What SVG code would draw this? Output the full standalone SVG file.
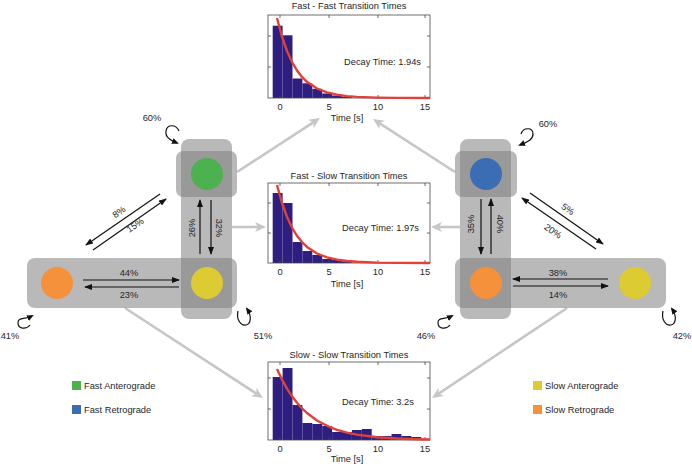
<svg xmlns="http://www.w3.org/2000/svg" width="692" height="466" viewBox="0 0 692 466">
<style>
text{font-family:"Liberation Sans",Arial,sans-serif;font-size:9.3px;fill:#262626}
.m{text-anchor:middle}
.frame{fill:none;stroke:#4a4a4a;stroke-width:0.8}
.tick{stroke:#4a4a4a;stroke-width:0.8}
.bar{fill:#2d1e80}
.fit{fill:none;stroke:#e2403a;stroke-width:2.4;stroke-linejoin:round}
.band{fill:#808080;opacity:0.55}
.grey{stroke:#c6c6c6;stroke-width:2.6;fill:none;marker-end:url(#gh)}
.ar{stroke:#111;stroke-width:1.2;fill:none;marker-end:url(#bh)}
.loop{stroke:#111;stroke-width:1.2;fill:none;marker-end:url(#lh)}
</style>
<defs>
<marker id="bh" markerUnits="userSpaceOnUse" markerWidth="8" markerHeight="6" refX="7" refY="3" orient="auto"><path d="M0,0 L8,3 L0,6 z" fill="#111"/></marker>
<marker id="lh" markerUnits="userSpaceOnUse" markerWidth="7" markerHeight="6" refX="5" refY="3" orient="auto"><path d="M0,0 L7,3 L0,6 z" fill="#111"/></marker>
<marker id="gh" markerUnits="userSpaceOnUse" markerWidth="11" markerHeight="10" refX="3" refY="5" orient="auto"><path d="M0,0 L11,5 L0,10 L3,5 z" fill="#c6c6c6"/></marker>
</defs>
<rect width="692" height="466" fill="#fff"/>

<g id="connectors">
<path class="grey" d="M237,172 L313.3,122.4"/>
<path class="grey" d="M455,172 L379.7,123.3"/>
<path class="grey" d="M232,227 L258,227"/>
<path class="grey" d="M460,227 L439,227"/>
<path class="grey" d="M125,308 L256.3,393.6"/>
<path class="grey" d="M567,308 L438.7,393.6"/>
</g>

<!-- Left state diagram -->
<g id="left-bands">
<rect class="band" x="27" y="258" width="210" height="50" rx="8"/>
<rect class="band" x="181" y="139" width="51" height="180" rx="8"/>
<rect class="band" x="176" y="151" width="61" height="46" rx="7"/>
</g>
<g id="left-fast-anterograde"><circle cx="207" cy="174" r="16" fill="#4cb14f"/></g>
<g id="left-slow-anterograde"><circle cx="207" cy="283" r="16" fill="#dccb33"/></g>
<g id="left-slow-retrograde"><circle cx="57" cy="283" r="16" fill="#f5913a"/></g>
<g id="left-transitions">
<path class="ar" d="M83,280 L179,280"/>
<path class="ar" d="M179,287 L85,287"/>
<path class="ar" d="M200,254 L200,200"/>
<path class="ar" d="M211,200 L211,254"/>
<path class="ar" d="M160,194 L86,245"/>
<path class="ar" d="M93,250 L166,199"/>
<text class="m" x="129" y="275.5">44%</text>
<text class="m" x="129" y="297.5">23%</text>
<text class="m" transform="translate(192,228) rotate(-90)" y="3.3">26%</text>
<text class="m" transform="translate(219,228) rotate(90)" y="3.3">32%</text>
<text class="m" transform="translate(119,212) rotate(-34.6)" y="3.3">8%</text>
<text class="m" transform="translate(135,225) rotate(-34.6)" y="3.3">15%</text>
<path class="loop" d="M179,131 C176,124 167,124 166,131 C165,137 170,140 177,143"/>
<text class="m" x="152" y="120.5">60%</text>
<path class="loop" d="M30,325 C26,330 18,329 18,323 C18,317 24,320 32,316"/>
<text class="m" x="10" y="338.5">41%</text>
<path class="loop" d="M238,311 C236,320 241,326 246,325 C251,324 252,316 247,309"/>
<text class="m" x="263" y="338.5">51%</text>
</g>

<!-- Right state diagram -->
<g id="right-bands">
<rect class="band" x="455" y="258" width="211" height="50" rx="8"/>
<rect class="band" x="460" y="139" width="51" height="180" rx="8"/>
<rect class="band" x="455" y="151" width="62" height="46" rx="7"/>
</g>
<g id="right-fast-retrograde"><circle cx="486" cy="174" r="16" fill="#3a6db4"/></g>
<g id="right-slow-retrograde"><circle cx="486" cy="283" r="16" fill="#f5913a"/></g>
<g id="right-slow-anterograde"><circle cx="635" cy="283" r="16" fill="#dccb33"/></g>
<g id="right-transitions">
<path class="ar" d="M608,279 L513,279"/>
<path class="ar" d="M513,286 L608,286"/>
<path class="ar" d="M481,199 L481,254"/>
<path class="ar" d="M491,254 L491,199"/>
<path class="ar" d="M530,193 L603,244"/>
<path class="ar" d="M596,249 L522,198"/>
<text class="m" x="558" y="275.5">38%</text>
<text class="m" x="558" y="297.5">14%</text>
<text class="m" transform="translate(471,224) rotate(-90)" y="3.3">35%</text>
<text class="m" transform="translate(500,224) rotate(90)" y="3.3">40%</text>
<text class="m" transform="translate(568,209) rotate(34.6)" y="3.3">5%</text>
<text class="m" transform="translate(553,231) rotate(34.6)" y="3.3">20%</text>
<path class="loop" d="M521,134 C523,127 533,127 533,134 C533,140 527,142 520,145"/>
<text class="m" x="548" y="126.5">60%</text>
<path class="loop" d="M450,325 C446,330 438,329 438,323 C438,317 444,320 452,316"/>
<text class="m" x="426" y="338.5">46%</text>
<path class="loop" d="M663,311 C661,320 666,326 671,325 C676,324 677,316 672,309"/>
<text class="m" x="682" y="338.5">42%</text>
</g>

<!-- Histogram: Fast - Fast -->
<g id="hist-fast-fast">
<text class="m" x="349" y="8.5">Fast - Fast Transition Times</text>
<rect class="bar" x="272.7" y="25.7" width="9.9" height="72.3"/>
<rect class="bar" x="282.6" y="35.3" width="9.9" height="62.7"/>
<rect class="bar" x="292.5" y="78.5" width="9.9" height="19.5"/>
<rect class="bar" x="302.4" y="83.3" width="9.9" height="14.7"/>
<rect class="bar" x="312.3" y="88.8" width="9.9" height="9.2"/>
<rect class="bar" x="322.2" y="93.5" width="9.9" height="4.5"/>
<rect class="bar" x="332.1" y="95.5" width="9.9" height="2.5"/>
<rect class="bar" x="342" y="96.8" width="9.9" height="1.2"/>
<rect class="frame" x="268" y="15" width="162" height="83"/>
<path class="tick" d="M280,15 v3 M329,15 v3 M378,15 v3 M425,15 v3 M280,98 v-3 M329,98 v-3 M378,98 v-3 M425,98 v-3 M268,36 h3 M268,67 h3 M430,36 h-3 M430,67 h-3"/>
<polyline class="fit" points="277,18 282,36.7 287,51 292,62 297,70.4 302,76.9 307,81.8 317,88.5 327,92.4 337,94.7 347,96.1 357,96.9 377,97.6 397,97.9 430,98"/>
<text x="344" y="64.5">Decay Time: 1.94s</text>
<text class="m" x="280" y="110">0</text>
<text class="m" x="329" y="110">5</text>
<text class="m" x="378" y="110">10</text>
<text class="m" x="425" y="110">15</text>
<text class="m" x="347" y="121">Time [s]</text>
</g>

<!-- Histogram: Fast - Slow -->
<g id="hist-fast-slow">
<text class="m" x="349" y="178.5">Fast - Slow Transition Times</text>
<rect class="bar" x="272.7" y="193" width="9.9" height="70"/>
<rect class="bar" x="282.6" y="203" width="9.9" height="60"/>
<rect class="bar" x="292.5" y="242" width="9.9" height="21"/>
<rect class="bar" x="302.4" y="251" width="9.9" height="12"/>
<rect class="bar" x="312.3" y="255" width="9.9" height="8"/>
<rect class="bar" x="322.2" y="259" width="9.9" height="4"/>
<rect class="bar" x="332.1" y="260" width="9.9" height="3"/>
<rect class="bar" x="342" y="261.5" width="9.9" height="1.5"/>
<rect class="frame" x="268" y="183" width="162" height="80"/>
<path class="tick" d="M280,183 v3 M329,183 v3 M378,183 v3 M425,183 v3 M280,263 v-3 M329,263 v-3 M378,263 v-3 M425,263 v-3 M268,203 h3 M268,233 h3 M430,203 h-3 M430,233 h-3"/>
<polyline class="fit" points="277,185 282,203 287,216.9 292,227.6 297,235.8 302,242.1 307,246.9 317,253.5 327,257.4 337,259.7 347,261 357,261.8 377,262.6 397,262.9 430,263"/>
<text x="342" y="230.5">Decay Time: 1.97s</text>
<text class="m" x="280" y="275">0</text>
<text class="m" x="329" y="275">5</text>
<text class="m" x="378" y="275">10</text>
<text class="m" x="425" y="275">15</text>
<text class="m" x="347" y="287">Time [s]</text>
</g>

<!-- Histogram: Slow - Slow -->
<g id="hist-slow-slow">
<text class="m" x="349" y="357.5">Slow - Slow Transition Times</text>
<rect class="bar" x="272.7" y="377" width="9.9" height="63"/>
<rect class="bar" x="282.6" y="368" width="9.9" height="72"/>
<rect class="bar" x="292.5" y="405" width="9.9" height="35"/>
<rect class="bar" x="302.4" y="423" width="9.9" height="17"/>
<rect class="bar" x="312.3" y="424" width="9.9" height="16"/>
<rect class="bar" x="322.2" y="426" width="9.9" height="14"/>
<rect class="bar" x="332.1" y="432" width="9.9" height="8"/>
<rect class="bar" x="342" y="432" width="9.9" height="8"/>
<rect class="bar" x="351.9" y="430" width="9.9" height="10"/>
<rect class="bar" x="361.8" y="429" width="9.9" height="11"/>
<rect class="bar" x="371.7" y="436" width="9.9" height="4"/>
<rect class="bar" x="381.6" y="436" width="9.9" height="4"/>
<rect class="bar" x="391.5" y="434" width="9.9" height="6"/>
<rect class="bar" x="401.4" y="436" width="9.9" height="4"/>
<rect class="bar" x="411.3" y="437" width="9.9" height="3"/>
<rect class="frame" x="268" y="362" width="162" height="78"/>
<path class="tick" d="M280,362 v3 M329,362 v3 M378,362 v3 M425,362 v3 M280,440 v-3 M329,440 v-3 M378,440 v-3 M425,440 v-3 M268,378 h3 M268,409 h3 M430,378 h-3 M430,409 h-3"/>
<polyline class="fit" points="277,369 282,379.6 287,388.6 292,396.3 297,402.7 302,408.3 307,413 317,420.5 327,425.8 337,429.8 347,432.6 357,434.6 377,437.2 397,438.5 417,439.2 430,439.5"/>
<text x="342" y="404.5">Decay Time: 3.2s</text>
<text class="m" x="280" y="452">0</text>
<text class="m" x="329" y="452">5</text>
<text class="m" x="378" y="452">10</text>
<text class="m" x="425" y="452">15</text>
<text class="m" x="347" y="462">Time [s]</text>
</g>

<!-- Legends -->
<g id="legend-left">
<rect x="72" y="381" width="9" height="9" fill="#4cb14f"/>
<text x="84" y="389">Fast Anterograde</text>
<rect x="72" y="405" width="9" height="9" fill="#3a6db4"/>
<text x="84" y="413">Fast Retrograde</text>
</g>
<g id="legend-right">
<rect x="533" y="381" width="9" height="9" fill="#dccb33"/>
<text x="545" y="389">Slow Anterograde</text>
<rect x="533" y="405" width="9" height="9" fill="#f5913a"/>
<text x="545" y="413">Slow Retrograde</text>
</g>
</svg>
